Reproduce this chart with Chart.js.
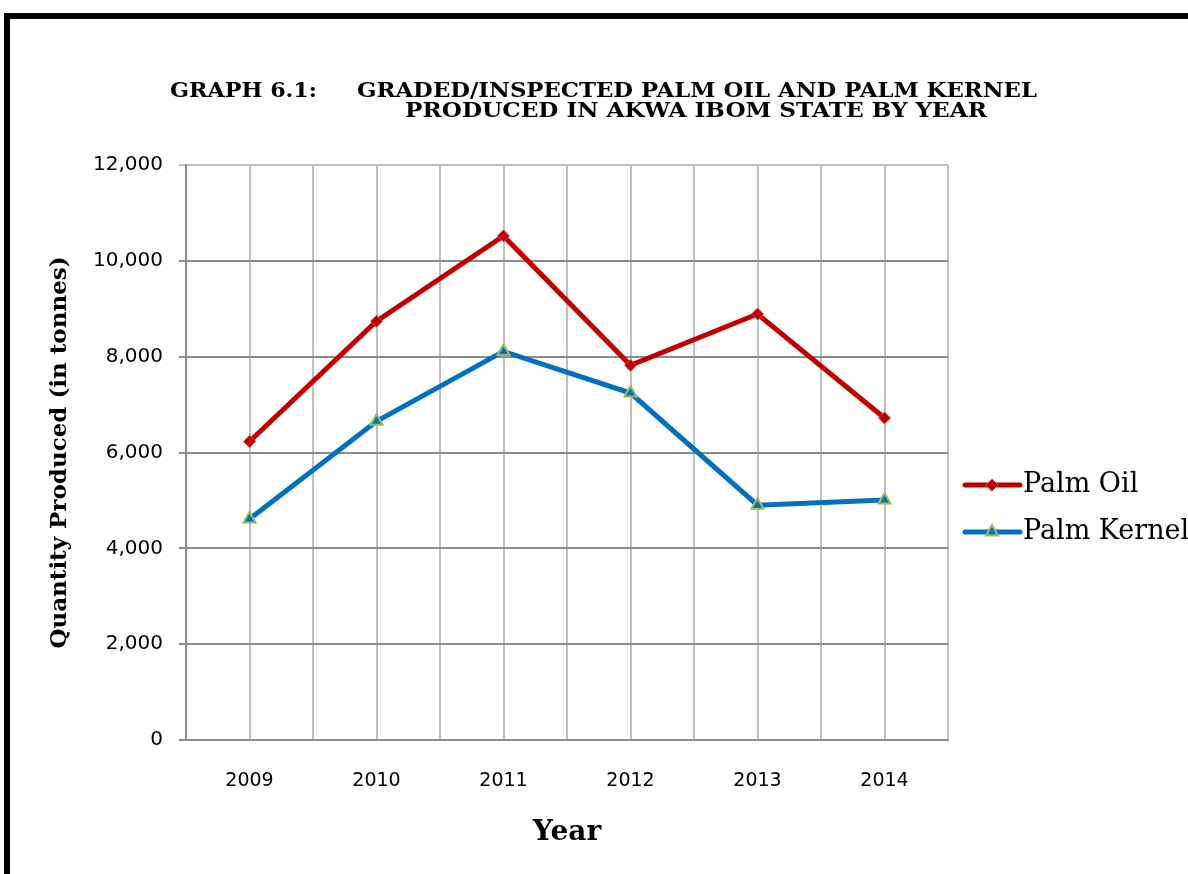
<!DOCTYPE html>
<html>
<head>
<meta charset="utf-8">
<script src="https://cdn.jsdelivr.net/npm/chart.js@4.4.1/dist/chart.umd.min.js"></script>
<style>
    html, body { margin: 0; padding: 0; background: #fff; overflow: hidden; }
    #frame { position: absolute; left: 4px; top: 13px; width: 1300px; height: 1000px; border-top: 6px solid #000; border-left: 6px solid #000; }
    #chart { position: absolute; left: 0; top: 0; }
</style>
</head>
<body>
<div id="frame"></div>
<canvas id="chart" width="1188" height="874"></canvas>
<script>
// values
const years = [2009, 2010, 2011, 2012, 2013, 2014];
const palmOil = [6230, 8740, 10520, 7820, 8890, 6720];
const palmKernel = [4610, 6650, 8110, 7240, 4900, 5010];
const yTicks = [0, 2000, 4000, 6000, 8000, 10000, 12000];

const titleLines = ['GRAPH 6.1:', 'GRADED/INSPECTED PALM OIL AND PALM KERNEL', 'PRODUCED IN AKWA IBOM STATE BY YEAR'];

const toPoints = (vals) => years.map((y, i) => ({ x: y, y: vals[i] }));

// title drawn by hand: the original is laid out with a tab, not centred,
// and its serif face is wider than anything installed, so stretch it a bit
function wideText(ctx, text, x, y, width) {
    const w = ctx.measureText(text).width;
    ctx.save();
    ctx.translate(x, y);
    ctx.scale(width / w, 1);
    ctx.fillText(text, 0, 0);
    ctx.restore();
}

const titlePlugin = {
    id: 'graphTitle',
    afterDraw(chart) {
        const ctx = chart.ctx;
        ctx.save();
        ctx.fillStyle = '#000';
        ctx.font = 'bold 20px "DejaVu Serif"';
        ctx.textBaseline = 'alphabetic';
        ctx.textAlign = 'left';
        wideText(ctx, titleLines[0], 170, 97, 147);
        wideText(ctx, titleLines[1], 357, 97, 680);
        wideText(ctx, titleLines[2], 405, 117, 582);
        ctx.restore();
    }
};

// legend: line sample with the marker in the middle, like the office chart
const legendPlugin = {
    id: 'sideLegend',
    afterDraw(chart) {
        const ctx = chart.ctx;
        const x0 = chart.chartArea.right + 17;
        const rows = [485, 532];
        chart.data.datasets.forEach((ds, i) => {
            const y = rows[i];
            ctx.save();
            ctx.strokeStyle = ds.borderColor;
            ctx.lineWidth = ds.borderWidth;
            ctx.lineCap = 'round';
            ctx.beginPath();
            ctx.moveTo(x0, y);
            ctx.lineTo(x0 + 55, y);
            ctx.stroke();
            ctx.fillStyle = ds.pointBackgroundColor;
            ctx.strokeStyle = ds.pointBorderColor;
            ctx.lineWidth = ds.pointBorderWidth;
            Chart.helpers.drawPoint(ctx, {
                pointStyle: ds.pointStyle,
                radius: ds.pointRadius,
                rotation: 0,
                borderWidth: ds.pointBorderWidth
            }, x0 + 27, y);
            ctx.fillStyle = '#000';
            ctx.font = '27px "DejaVu Serif"';
            ctx.textBaseline = 'middle';
            ctx.fillText(ds.label, x0 + 58, y);
            ctx.restore();
        });
    }
};

new Chart(document.getElementById('chart'), {
    type: 'line',
    data: {
        datasets: [
            {
                label: 'Palm Oil',
                data: toPoints(palmOil),
                borderColor: '#C00000',
                borderWidth: 5,
                pointStyle: 'rectRot',
                pointRadius: 6,
                pointBackgroundColor: '#C00000',
                pointBorderColor: '#D24A4A',
                pointBorderWidth: 1
            },
            {
                label: 'Palm Kernel',
                data: toPoints(palmKernel),
                borderColor: '#0070C0',
                borderWidth: 5,
                pointStyle: 'triangle',
                pointRadius: 7,
                pointBackgroundColor: '#0070C0',
                pointBorderColor: '#9BBB59',
                pointBorderWidth: 2
            }
        ]
    },
    options: {
        responsive: false,
        animation: false,
        devicePixelRatio: 1,
        layout: { padding: { top: 165, right: 240, left: 0, bottom: 0 } },
        plugins: {
            legend: { display: false },
            tooltip: { enabled: false }
        },
        scales: {
            x: {
                type: 'linear',
                min: years[0] - 0.5,
                max: years[years.length - 1] + 0.5,
                afterBuildTicks(scale) {
                    const t = [];
                    for (let v = scale.min; v <= scale.max + 0.001; v += 0.5) t.push({ value: v });
                    scale.ticks = t;
                },
                afterFit(scale) { scale.height = 134; },
                grid: { color: '#BFBFBF', lineWidth: 2, drawTicks: false },
                border: { color: '#8C8C8C', width: 2 },
                ticks: {
                    autoSkip: false,
                    maxRotation: 0,
                    padding: 30,
                    color: '#000',
                    font: { family: '"DejaVu Sans"', size: 19 },
                    callback: (v) => (years.includes(v) ? String(v) : '')
                },
                title: {
                    display: true,
                    text: 'Year',
                    color: '#000',
                    font: { family: '"DejaVu Serif"', size: 28, weight: 'bold' },
                    padding: { top: 0, bottom: 24 }
                }
            },
            y: {
                min: yTicks[0],
                max: yTicks[yTicks.length - 1],
                afterBuildTicks(scale) { scale.ticks = yTicks.map((v) => ({ value: v })); },
                afterFit(scale) { scale.width = 186; },
                grid: {
                    color: (c) => (c.tick && c.tick.value === 12000 ? '#BFBFBF' : '#8C8C8C'),
                    lineWidth: 2,
                    tickLength: 7
                },
                border: { color: '#8C8C8C', width: 2 },
                ticks: {
                    padding: 16,
                    color: '#000',
                    font: { family: '"DejaVu Sans"', size: 20 },
                    callback: (v) => v.toLocaleString('en-US')
                },
                title: {
                    display: true,
                    text: 'Quantity Produced (in tonnes)',
                    color: '#000',
                    font: { family: '"DejaVu Serif"', size: 23, weight: 'bold' },
                    padding: { top: 46, bottom: 0 }
                }
            }
        }
    },
    plugins: [titlePlugin, legendPlugin]
});
</script>
</body>
</html>
